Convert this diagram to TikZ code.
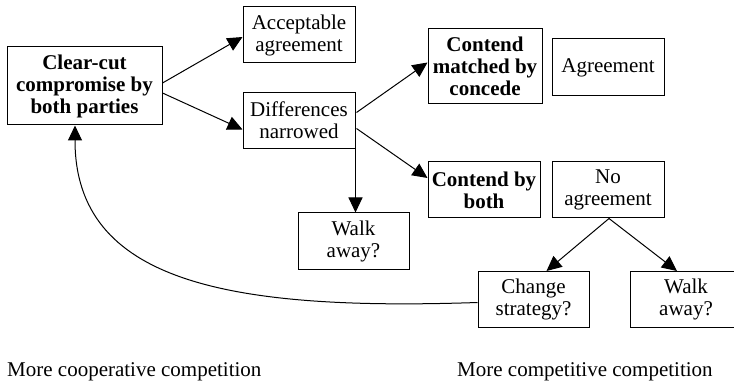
\documentclass[tikz,border=0pt]{standalone}
\usepackage{fontspec}
\setmainfont{Liberation Serif}
\usetikzlibrary{arrows.meta}
\tikzset{
  box/.style={draw, line width=1pt, inner sep=0pt, align=center,
    font=\fontsize{21}{22}\selectfont},
  bbox/.style={box, font=\fontsize{21}{22}\selectfont\bfseries},
  link/.style={line width=1pt, -{Triangle[length=15pt,width=14pt]}},
  caption/.style={anchor=base west, inner sep=0pt, font=\fontsize{21}{22}\selectfont}
}
\begin{document}
\begin{tikzpicture}[x=1pt, y=-1pt]
\useasboundingbox (0,0) rectangle (734,382);
\clip (0,0) rectangle (734,382);

% boxes
\node[bbox, minimum width=155pt, minimum height=78pt] (clear) at (84.5,86)
  {Clear-cut\\compromise by\\both parties};
\node[box, minimum width=112pt, minimum height=56pt] (acc) at (299,35)
  {Acceptable\\agreement};
\node[box, minimum width=112pt, minimum height=56pt] (diff) at (299,120.5)
  {Differences\\narrowed};
\node[bbox, minimum width=114pt, minimum height=75pt] (cmc) at (485,66.5)
  {Contend\\matched by\\concede};
\node[box, minimum width=112pt, minimum height=57pt] (agr) at (608,67.5)
  {Agreement};
\node[bbox, minimum width=112pt, minimum height=56pt] (cbb) at (484,190)
  {Contend by\\both};
\node[box, minimum width=112pt, minimum height=56pt] (noag) at (608,190)
  {No\\agreement};
\node[box, minimum width=111pt, minimum height=57pt] (walka) at (353.5,241.5)
  {Walk\\away?};
\node[box, minimum width=111pt, minimum height=56pt] (chg) at (533.5,299.5)
  {Change\\strategy?};
\node[box, minimum width=112pt, minimum height=56pt] (walkb) at (686,299.5)
  {Walk\\away?};

% connectors
\draw[link] ([yshift=3pt]clear.east) -- ([yshift=-2pt]acc.west);
\draw[link] ([yshift=-7pt]clear.east) -- ([yshift=-9pt]diff.west);
\draw[link] ([xshift=1pt,yshift=8pt]diff.east) -- ([yshift=4pt]cmc.west);
\draw[link] ([xshift=1pt,yshift=-8pt]diff.east) -- ([yshift=12pt]cbb.west);
\draw[link] (diff.south east) -- (diff.south east |- walka.north);
\draw[link] ([xshift=1pt]noag.south) -- ([xshift=13pt]chg.north);
\draw[link] ([xshift=1pt]noag.south) -- ([xshift=-9pt]walkb.north);
\draw[link] ([yshift=-3pt]chg.west) .. controls (228,311) and (75,282) .. ([xshift=-9.5pt]clear.south);

% captions
\node[caption] (coop) at (7,376) {More cooperative competition};
\node[caption] (comp) at (457,376) {More competitive competition};
\end{tikzpicture}
\end{document}
